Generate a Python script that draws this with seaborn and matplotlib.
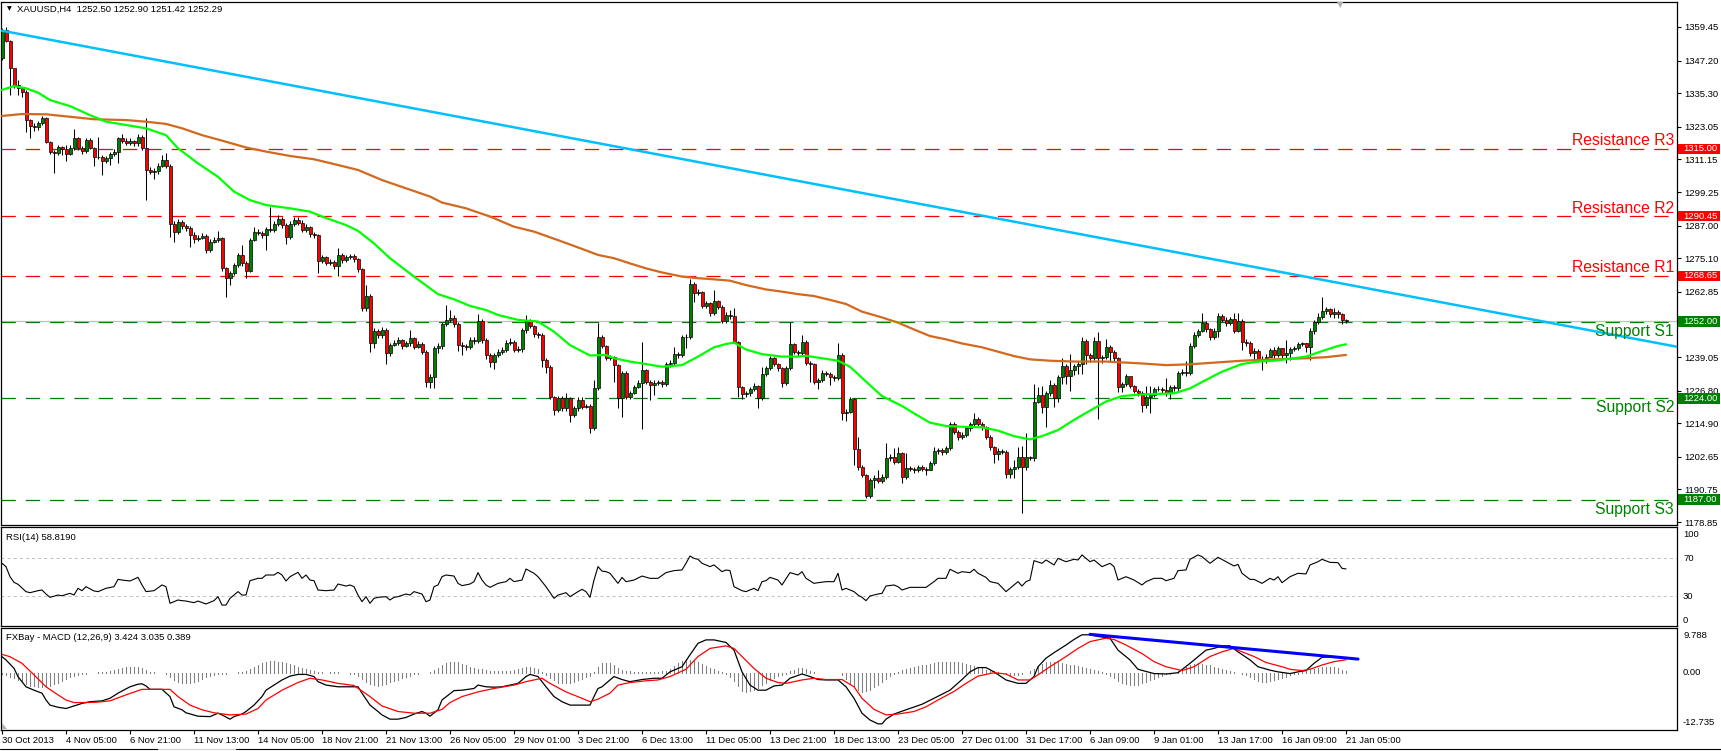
import numpy as np
import matplotlib
matplotlib.use("Agg")
import matplotlib.pyplot as plt
import matplotlib.transforms as mtransforms
from matplotlib.patches import Rectangle, Polygon
from matplotlib.lines import Line2D
import seaborn as sns

# ---------------- DATA ----------------
symbol_title = "XAUUSD,H4  1252.50 1252.90 1251.42 1252.29"
rsi_title = "RSI(14) 58.8190"
macd_title = "FXBay - MACD (12,26,9) 3.424 3.035 0.389"

first_open = 1348.0
closes = [
    1358.4, 1354.5, 1344.4, 1338.3, 1337.1, 1335.9, 1325.5, 1323.3, 1322.8, 1324.3,
    1326.1, 1317.6, 1313.7, 1313.4, 1315.5, 1315.0, 1313.2, 1315.3, 1318.8, 1315.2,
    1314.2, 1318.2, 1315.2, 1311.9, 1312.1, 1310.6, 1311.5, 1313.1, 1314.0, 1318.8,
    1318.0, 1317.3, 1317.9, 1317.0, 1319.4, 1315.2, 1307.3, 1306.7, 1307.0, 1308.9,
    1310.9, 1308.9, 1287.6, 1284.8, 1288.4, 1286.9, 1286.2, 1283.6, 1282.0, 1282.6,
    1283.2, 1278.1, 1281.1, 1281.7, 1282.4, 1271.4, 1267.8, 1269.6, 1272.6, 1276.3,
    1273.2, 1270.6, 1281.7, 1284.8, 1284.4, 1283.4, 1285.6, 1285.4, 1287.6, 1289.4,
    1287.2, 1282.7, 1287.6, 1289.0, 1288.1, 1285.4, 1286.6, 1283.9, 1283.4, 1274.2,
    1275.4, 1273.5, 1273.8, 1272.3, 1276.3, 1274.4, 1275.4, 1275.8, 1274.7, 1271.0,
    1256.8, 1261.4, 1244.0, 1248.7, 1247.1, 1248.9, 1240.4, 1243.4, 1244.3, 1245.3,
    1243.1, 1244.0, 1245.9, 1242.8, 1243.8, 1241.0, 1230.1, 1231.9, 1242.2, 1243.1,
    1251.1, 1252.6, 1253.2, 1251.1, 1243.4, 1243.1, 1242.6, 1245.3, 1244.9, 1252.2,
    1245.3, 1239.8, 1237.4, 1239.8, 1241.0, 1241.6, 1244.3, 1244.7, 1241.6, 1242.1,
    1248.9, 1252.2, 1250.4, 1247.5, 1247.1, 1238.0, 1235.5, 1224.6, 1219.7, 1224.0,
    1220.3, 1224.0, 1217.9, 1220.3, 1223.4, 1220.9, 1221.2, 1213.0, 1227.6, 1246.5,
    1243.1, 1238.6, 1238.9, 1236.1, 1224.0, 1233.3, 1224.6, 1226.0, 1228.2, 1229.7,
    1234.3, 1230.1, 1228.8, 1229.7, 1229.9, 1229.1, 1236.5, 1237.0, 1240.2, 1239.7,
    1246.2, 1246.5, 1265.7, 1262.3, 1262.9, 1257.7, 1258.6, 1255.0, 1259.5, 1257.4,
    1252.3, 1254.4, 1254.0, 1244.6, 1228.0, 1225.6, 1225.8, 1227.3, 1228.6, 1224.0,
    1232.8, 1234.9, 1238.6, 1236.5, 1234.9, 1229.4, 1234.9, 1243.8, 1241.0, 1240.4,
    1244.6, 1237.0, 1236.5, 1230.1, 1230.7, 1233.3, 1232.8, 1231.9, 1231.3, 1239.8,
    1218.7, 1219.1, 1223.6, 1205.4, 1199.0, 1196.0, 1188.3, 1194.2, 1194.8, 1194.0,
    1195.2, 1202.1, 1202.5, 1200.9, 1203.9, 1195.2, 1198.4, 1198.3, 1197.8, 1199.0,
    1198.3, 1197.8, 1200.5, 1204.9, 1205.1, 1204.3, 1205.7, 1214.6, 1211.8, 1210.0,
    1210.6, 1213.0, 1214.6, 1216.3, 1214.6, 1213.6, 1210.0, 1206.1, 1203.7, 1204.9,
    1204.4, 1196.4, 1198.1, 1199.0, 1202.4, 1199.0, 1202.4, 1202.2, 1222.7, 1225.2,
    1220.9, 1225.8, 1228.8, 1224.0, 1231.6, 1235.8, 1232.1, 1234.3, 1235.8, 1236.5,
    1245.0, 1239.8, 1238.6, 1245.0, 1238.6, 1238.9, 1242.8, 1241.0, 1238.6, 1228.2,
    1229.2, 1232.1, 1228.5, 1226.8, 1226.0, 1221.5, 1224.6, 1225.1, 1227.3, 1227.5,
    1227.0, 1226.0, 1228.2, 1227.6, 1233.3, 1233.7, 1233.1, 1243.1, 1247.1, 1248.7,
    1251.6, 1249.2, 1246.2, 1248.7, 1254.0, 1252.6, 1251.6, 1252.8, 1248.7, 1252.3,
    1244.6, 1244.3, 1240.6, 1241.4, 1238.2, 1238.5, 1239.2, 1241.6, 1239.8, 1242.2,
    1239.7, 1240.4, 1241.8, 1242.2, 1243.8, 1244.0, 1242.6, 1248.7, 1252.0, 1253.5,
    1256.0, 1256.4, 1254.7, 1255.6, 1254.7, 1252.5, 1252.29,
]
highs = [
    1359.0, 1359.3, 1354.8, 1343.2, 1340.1, 1337.7, 1336.3, 1326.0, 1324.5, 1325.2,
    1327.0, 1326.7, 1318.0, 1314.5, 1316.4, 1316.0, 1316.3, 1316.4, 1322.1, 1319.3,
    1316.0, 1319.0, 1318.8, 1315.6, 1319.4, 1312.8, 1312.4, 1314.0, 1315.0, 1319.5,
    1320.3, 1318.9, 1319.0, 1318.4, 1320.4, 1320.0, 1326.1, 1308.5, 1308.0, 1309.8,
    1312.8, 1313.4, 1309.5, 1288.5, 1289.4, 1288.9, 1287.5, 1287.0, 1284.5, 1283.5,
    1284.2, 1283.8, 1282.0, 1282.8, 1285.1, 1283.0, 1272.0, 1270.5, 1273.5, 1277.0,
    1279.9, 1274.0, 1282.6, 1286.6, 1285.8, 1285.0, 1286.5, 1293.7, 1288.5, 1290.9,
    1290.0, 1287.8, 1288.5, 1290.0, 1290.0, 1289.0, 1287.7, 1287.0, 1284.8, 1284.0,
    1276.3, 1276.0, 1274.8, 1274.5, 1278.7, 1277.0, 1276.4, 1276.8, 1276.5, 1275.3,
    1271.5, 1265.3, 1262.0, 1249.6, 1249.2, 1250.0, 1249.5, 1244.3, 1245.2, 1246.5,
    1245.8, 1245.0, 1248.9, 1246.5, 1244.8, 1244.5, 1241.5, 1233.0, 1243.0, 1244.0,
    1252.0, 1258.0, 1256.2, 1254.4, 1251.8, 1244.5, 1243.8, 1246.2, 1246.2, 1254.7,
    1253.0, 1246.0, 1240.5, 1240.6, 1242.0, 1242.8, 1245.2, 1246.0, 1245.3, 1243.2,
    1249.8, 1254.4, 1253.0, 1250.8, 1248.3, 1247.8, 1238.6, 1236.0, 1225.0, 1225.0,
    1224.8, 1226.1, 1224.5, 1221.2, 1224.3, 1224.6, 1222.0, 1221.8, 1230.7, 1251.3,
    1247.1, 1243.5, 1239.8, 1239.3, 1236.5, 1234.0, 1233.8, 1226.8, 1229.0, 1230.5,
    1244.5, 1234.8, 1230.6, 1230.6, 1230.8, 1230.5, 1237.3, 1237.8, 1242.8, 1240.8,
    1247.0, 1247.3, 1267.4, 1266.3, 1263.8, 1263.3, 1259.5, 1259.0, 1263.5, 1260.0,
    1257.9, 1255.3, 1256.2, 1256.8, 1245.0, 1228.5, 1226.6, 1228.0, 1229.5, 1229.0,
    1235.5, 1235.8, 1239.4, 1239.2, 1237.0, 1235.3, 1235.8, 1252.0, 1244.3, 1241.5,
    1247.1, 1245.3, 1237.6, 1237.0, 1231.5, 1234.2, 1234.0, 1233.5, 1232.5, 1244.3,
    1240.5, 1220.0, 1224.5, 1224.2, 1210.0, 1199.5, 1196.5, 1195.0, 1196.0, 1197.8,
    1196.2, 1207.8, 1203.5, 1205.7, 1206.3, 1204.5, 1203.9, 1199.3, 1199.0, 1199.8,
    1199.5, 1198.8, 1201.3, 1206.3, 1206.0, 1205.8, 1206.5, 1215.5, 1215.2, 1212.5,
    1211.8, 1214.0, 1215.3, 1218.7, 1217.0, 1215.2, 1214.0, 1210.5, 1206.5, 1205.8,
    1205.5, 1205.0, 1199.0, 1201.5, 1206.3, 1206.6, 1211.4, 1203.0, 1229.2, 1228.2,
    1228.5, 1226.6, 1230.7, 1229.5, 1232.5, 1238.6, 1236.5, 1240.2, 1236.6, 1237.7,
    1246.2, 1245.8, 1240.5, 1246.5, 1248.3, 1239.8, 1245.5, 1243.5, 1241.5, 1239.2,
    1230.0, 1233.0, 1231.9, 1229.0, 1227.5, 1226.5, 1228.5, 1228.5, 1228.0, 1228.4,
    1228.2, 1231.3, 1229.0, 1229.0, 1234.0, 1234.5, 1237.7, 1244.0, 1248.0, 1249.2,
    1255.2, 1252.3, 1249.7, 1249.5, 1255.0, 1254.8, 1253.5, 1253.8, 1255.2, 1255.2,
    1253.0, 1245.5, 1244.8, 1242.2, 1241.8, 1239.5, 1240.0, 1242.5, 1242.6, 1243.0,
    1242.5, 1245.2, 1242.8, 1243.1, 1244.5, 1244.6, 1244.3, 1249.5, 1252.6, 1255.2,
    1261.1, 1257.3, 1256.8, 1256.8, 1256.3, 1255.0, 1252.9,
]
lows = [
    1347.5, 1354.0, 1334.6, 1337.1, 1334.6, 1334.0, 1321.3, 1318.8, 1321.5, 1322.0,
    1323.8, 1317.0, 1313.1, 1306.1, 1312.8, 1312.6, 1310.7, 1312.8, 1314.5, 1314.5,
    1313.0, 1313.6, 1314.8, 1308.9, 1311.3, 1305.5, 1309.8, 1309.1, 1312.5, 1310.0,
    1317.0, 1316.3, 1316.5, 1315.9, 1316.2, 1314.5, 1296.3, 1305.8, 1303.9, 1306.0,
    1308.3, 1308.0, 1282.7, 1281.1, 1284.0, 1285.9, 1285.0, 1279.1, 1280.6, 1281.3,
    1282.0, 1277.0, 1277.3, 1280.5, 1281.0, 1270.5, 1261.1, 1265.3, 1269.0, 1272.0,
    1272.4, 1267.8, 1270.0, 1281.3, 1283.5, 1282.5, 1278.1, 1284.6, 1284.8, 1287.0,
    1286.3, 1280.3, 1282.0, 1287.0, 1287.3, 1284.5, 1284.8, 1283.0, 1282.5, 1269.6,
    1273.4, 1272.5, 1272.8, 1271.0, 1268.6, 1273.5, 1273.8, 1274.8, 1273.8, 1270.0,
    1256.0, 1255.8, 1241.0, 1242.5, 1246.0, 1246.0, 1236.5, 1239.5, 1243.0, 1243.5,
    1242.0, 1242.6, 1243.0, 1241.8, 1242.2, 1240.0, 1228.2, 1227.6, 1227.6, 1240.5,
    1242.0, 1250.5, 1251.8, 1250.0, 1241.4, 1239.8, 1241.5, 1241.9, 1243.8, 1244.0,
    1244.0, 1238.5, 1235.5, 1234.6, 1239.0, 1240.2, 1240.8, 1243.5, 1240.8, 1240.8,
    1241.0, 1247.8, 1249.5, 1246.5, 1246.0, 1235.5, 1233.3, 1223.6, 1217.9, 1219.0,
    1219.4, 1219.5, 1215.5, 1217.0, 1219.5, 1220.0, 1220.3, 1211.5, 1212.5, 1227.0,
    1242.5, 1238.0, 1237.8, 1230.0, 1220.3, 1217.0, 1223.8, 1223.9, 1225.5, 1227.8,
    1212.7, 1229.3, 1223.4, 1225.1, 1228.8, 1228.0, 1228.5, 1235.5, 1236.3, 1238.8,
    1239.2, 1242.2, 1245.8, 1259.2, 1261.5, 1256.8, 1257.0, 1254.0, 1254.5, 1256.5,
    1251.5, 1251.6, 1253.0, 1244.0, 1224.6, 1223.6, 1224.5, 1225.0, 1226.5, 1220.3,
    1223.5, 1232.0, 1234.3, 1235.8, 1234.0, 1228.2, 1228.8, 1234.3, 1240.0, 1239.5,
    1239.8, 1236.0, 1230.1, 1229.2, 1227.3, 1230.0, 1232.0, 1228.8, 1230.4, 1230.8,
    1216.1, 1215.8, 1218.5, 1199.7, 1198.0, 1195.2, 1187.5, 1187.8, 1191.2, 1193.0,
    1193.0, 1194.5, 1201.3, 1200.0, 1200.3, 1193.0, 1194.6, 1197.3, 1196.6, 1197.2,
    1197.5, 1196.0, 1197.8, 1199.8, 1203.8, 1203.3, 1203.8, 1205.0, 1211.0, 1208.8,
    1209.2, 1209.7, 1212.2, 1213.8, 1213.8, 1212.5, 1209.0, 1205.3, 1200.5, 1201.5,
    1203.6, 1194.8, 1195.0, 1194.8, 1198.2, 1182.3, 1198.0, 1201.5, 1201.0, 1222.4,
    1218.7, 1213.4, 1224.8, 1220.7, 1222.7, 1229.2, 1229.2, 1226.8, 1232.5, 1232.8,
    1232.8, 1236.5, 1237.3, 1238.0, 1216.3, 1236.7, 1238.3, 1237.4, 1237.5, 1226.4,
    1226.4, 1228.5, 1227.6, 1225.8, 1225.0, 1219.1, 1220.5, 1218.5, 1224.5, 1226.5,
    1226.0, 1225.0, 1223.6, 1226.5, 1226.8, 1232.5, 1232.2, 1232.5, 1242.5, 1246.5,
    1248.0, 1248.3, 1245.2, 1245.6, 1246.2, 1251.8, 1250.5, 1250.8, 1247.8, 1248.0,
    1241.6, 1243.0, 1239.5, 1238.0, 1237.2, 1234.3, 1237.0, 1238.9, 1238.8, 1239.2,
    1238.8, 1236.7, 1238.0, 1241.2, 1241.5, 1243.0, 1241.0, 1238.0, 1247.5, 1251.0,
    1253.0, 1254.8, 1253.8, 1253.2, 1253.2, 1251.1, 1251.42,
]

# moving averages (bar index, price)
ma_fast_idx = [0, 3, 6, 9, 12, 17, 22, 26, 31, 36, 41, 44, 49, 54, 58, 62, 66, 72, 77, 80,
               86, 89, 93, 97, 103, 109, 113, 117, 121, 124, 129, 134, 138, 142, 147, 151, 153, 157, 161, 165,
               170, 174, 178, 181, 183, 186, 190, 195, 199, 201, 205, 209, 212, 216, 220, 225, 228, 232, 236, 240,
               245, 249, 253, 257, 260, 264, 268, 272, 276, 280, 285, 289, 293, 297, 301, 305, 310, 314, 318, 323,
               326, 330, 334, 336]
ma_fast_val = [1336.5, 1337.9, 1337.1, 1335.5, 1332.8, 1330.6, 1327.3, 1324.9, 1323.7, 1322.5,
               1320.0, 1315.2, 1309.7, 1304.8, 1299.4, 1296.3, 1294.5, 1293.3, 1292.1, 1290.3,
               1287.2, 1285.1, 1280.5, 1275.1, 1268.4, 1262.0, 1260.1, 1257.7, 1256.2, 1254.4,
               1252.6, 1252.0, 1248.3, 1243.4, 1239.6, 1239.8, 1238.6, 1237.4, 1236.5, 1235.5,
               1236.1, 1239.2, 1242.6, 1243.8, 1244.3, 1241.8, 1240.1, 1239.2, 1239.2, 1239.5,
               1238.6, 1237.7, 1235.5, 1230.1, 1224.8, 1221.2, 1218.5, 1215.1, 1213.9, 1213.6,
               1213.4, 1212.2, 1210.2, 1209.0, 1210.2, 1212.4, 1216.1, 1219.5, 1222.8, 1224.8,
               1225.4, 1225.6, 1225.8, 1227.6, 1230.7, 1233.7, 1236.5, 1237.4, 1237.7, 1238.6,
               1239.2, 1241.2, 1243.1, 1243.7]
ma_slow_idx = [0, 5, 11, 17, 23, 31, 36, 41, 45, 50, 55, 61, 66, 72, 78, 84, 89, 95, 101, 107,
               110, 116, 122, 128, 133, 139, 145, 149, 153, 157, 161, 165, 170, 174, 178, 182, 186, 191, 195, 199,
               203, 207, 211, 215, 220, 224, 228, 232, 236, 240, 245, 249, 253, 257, 262, 268, 276, 285, 291, 297,
               303, 310, 318, 326, 331, 336]
ma_slow_val = [1327.0, 1327.7, 1327.6, 1326.7, 1325.8, 1325.5, 1324.9, 1324.1, 1322.5, 1320.0,
               1318.0, 1315.5, 1314.0, 1312.4, 1311.2, 1309.1, 1307.3, 1303.6, 1300.6, 1297.6,
               1295.4, 1293.3, 1290.3, 1286.6, 1284.8, 1281.7, 1278.5, 1276.3, 1275.1, 1273.2,
               1271.4, 1269.9, 1268.4, 1267.8, 1267.4, 1266.9, 1265.3, 1263.7, 1262.9, 1262.0,
               1261.3, 1259.9, 1258.4, 1255.6, 1253.5, 1251.6, 1249.1, 1246.7, 1245.5, 1244.0,
               1242.6, 1241.0, 1239.4, 1238.2, 1237.7, 1237.4, 1237.4, 1236.7, 1236.1, 1236.4,
               1237.0, 1237.7, 1238.2, 1238.6, 1239.0, 1239.8]

# descending trendline anchors (bar index, price)
trend_idx = [0, 418.75]
trend_val = [1358.1, 1242.8]

level_values = [1315.00, 1290.45, 1268.65, 1252.00, 1224.00, 1187.00]
level_names = ["Resistance R3", "Resistance R2", "Resistance R1", "Support S1", "Support S2", "Support S3"]
level_kind = ["R", "R", "R", "S", "S", "S"]
bid_price = 1252.29

price_ticks = [1359.45, 1347.20, 1335.30, 1323.05, 1311.15, 1299.25, 1287.00, 1275.10,
               1262.85, 1239.05, 1226.80, 1214.90, 1202.65, 1190.75, 1178.85]

rsi_idx = [0, 1, 2, 3, 4, 6, 7, 9, 10, 11,
           12, 14, 15, 17, 18, 19, 20, 21, 23, 24,
           26, 28, 29, 30, 32, 34, 35, 36, 38, 40,
           41, 42, 44, 45, 46, 48, 49, 51, 53, 54,
           55, 56, 57, 59, 60, 61, 62, 64, 65, 66,
           68, 69, 70, 71, 72, 74, 75, 76, 77, 78,
           79, 81, 83, 84, 86, 87, 88, 89, 90, 91,
           92, 93, 94, 96, 97, 98, 99, 101, 102, 103,
           105, 106, 107, 108, 109, 110, 111, 113, 114, 115,
           117, 118, 119, 120, 121, 122, 124, 126, 127, 128,
           130, 131, 133, 134, 136, 138, 139, 141, 142, 144,
           145, 146, 147, 148, 149, 150, 151, 152, 154, 155,
           156, 158, 160, 162, 164, 166, 168, 170, 171, 172,
           173, 174, 175, 176, 177, 178, 180, 181, 182, 183,
           185, 186, 188, 189, 190, 191, 192, 194, 195, 197,
           199, 200, 201, 203, 204, 206, 208, 209, 210, 211,
           213, 214, 215, 216, 217, 219, 220, 221, 223, 224,
           225, 227, 231, 233, 234, 236, 237, 239, 240, 242,
           243, 244, 246, 247, 249, 251, 252, 254, 255, 256,
           257, 258, 260, 261, 263, 264, 266, 268, 269, 270,
           272, 273, 275, 277, 278, 279, 281, 283, 285, 286,
           288, 290, 291, 293, 294, 296, 297, 299, 300, 302,
           304, 306, 308, 309, 310, 312, 313, 315, 317, 318,
           319, 320, 322, 324, 326, 327, 329, 330, 332, 334,
           335, 336]
rsi_val = [64.7, 61.2, 50.6, 44.7, 42.6, 34.9, 33.8, 35.9, 36.6, 32.4,
           28.9, 31.3, 30.6, 33.1, 31.3, 38.4, 35.9, 40.1, 35.6, 34.9,
           38.4, 40.1, 47.8, 47.1, 46.1, 49.9, 41.9, 34.9, 35.9, 41.9,
           40.1, 22.6, 26.1, 25.4, 25.0, 23.3, 25.0, 21.9, 25.4, 29.6,
           20.8, 20.8, 27.8, 34.9, 31.3, 31.3, 46.4, 48.9, 48.9, 52.4,
           52.4, 55.2, 52.4, 46.1, 50.6, 55.2, 48.9, 52.4, 47.1, 46.4,
           36.6, 35.9, 36.6, 42.9, 40.8, 41.9, 40.1, 31.3, 24.3, 29.6,
           22.6, 27.8, 28.9, 29.6, 26.1, 28.9, 29.6, 32.4, 31.3, 34.9,
           32.4, 24.3, 26.1, 40.1, 41.9, 50.6, 52.4, 51.3, 43.6, 41.2,
           42.9, 45.4, 54.9, 47.1, 41.9, 39.4, 43.6, 45.4, 48.9, 45.4,
           47.1, 58.7, 54.2, 50.6, 40.1, 27.8, 31.3, 33.8, 29.6, 34.9,
           37.3, 34.9, 28.9, 47.1, 61.2, 56.5, 55.9, 54.2, 43.6, 49.9,
           45.4, 47.1, 51.3, 48.9, 48.9, 54.9, 57.0, 57.7, 64.7, 72.4,
           69.9, 68.9, 64.7, 63.0, 61.2, 63.0, 55.9, 57.7, 57.0, 40.1,
           35.9, 34.9, 38.4, 35.9, 45.4, 46.4, 49.9, 47.1, 41.9, 54.9,
           52.4, 55.9, 48.9, 43.6, 44.3, 45.4, 45.4, 54.2, 36.6, 38.4,
           34.9, 31.3, 28.9, 25.4, 30.3, 32.4, 33.1, 40.8, 41.9, 40.1,
           36.6, 39.4, 39.4, 45.4, 48.9, 48.9, 58.4, 54.2, 55.9, 54.9,
           58.4, 54.2, 49.9, 45.4, 43.6, 34.9, 38.4, 45.4, 40.8, 45.4,
           47.1, 67.5, 64.7, 68.2, 63.0, 69.9, 66.4, 68.9, 68.2, 73.5,
           66.4, 68.2, 61.2, 64.7, 61.2, 47.1, 50.6, 47.1, 41.9, 45.4,
           48.9, 48.9, 46.4, 48.9, 57.0, 57.7, 68.9, 73.5, 71.7, 64.7,
           71.0, 66.4, 61.9, 63.6, 54.2, 47.8, 47.8, 43.6, 48.9, 47.1,
           50.6, 44.3, 50.6, 54.2, 53.5, 62.9, 66.4, 68.9, 65.7, 65.4,
           59.4, 58.8]

macd_idx = [0, 1, 3, 4, 6, 8, 10, 11, 12, 14,
            16, 18, 20, 22, 25, 27, 29, 32, 34, 35,
            36, 37, 40, 42, 43, 45, 46, 49, 52, 54,
            55, 57, 58, 60, 61, 63, 65, 66, 68, 70,
            72, 74, 76, 78, 79, 81, 84, 87, 89, 90,
            92, 94, 95, 97, 99, 101, 103, 105, 106, 107,
            109, 110, 113, 115, 118, 119, 121, 123, 125, 127,
            129, 131, 132, 134, 136, 138, 140, 142, 145, 147,
            148, 149, 150, 153, 155, 157, 160, 163, 165, 167,
            170, 172, 174, 176, 178, 181, 183, 185, 187, 189,
            191, 193, 195, 197, 200, 202, 204, 206, 209, 211,
            213, 215, 217, 219, 220, 221, 223, 226, 230, 233,
            237, 240, 242, 244, 246, 248, 251, 254, 256, 258,
            259, 261, 263, 266, 268, 270, 272, 274, 277, 279,
            282, 284, 288, 291, 294, 297, 300, 301, 303, 305,
            307, 309, 312, 314, 317, 319, 322, 324, 326, 328,
            330, 333, 335, 336]
macd_val = [3.76, 3.0, 1.03, -0.93, -3.3, -4.1, -4.8, -6.4, -7.6, -8.1,
            -8.4, -7.8, -7.2, -6.8, -6.6, -6.0, -4.8, -3.3, -2.7, -2.6,
            -3.1, -3.9, -3.9, -5.6, -8.0, -8.7, -9.4, -10.2, -10.3, -9.5,
            -9.9, -10.9, -10.3, -9.7, -9.1, -7.6, -5.6, -4.1, -2.9, -1.7,
            -0.8, -0.4, -0.4, -0.9, -2.1, -2.9, -3.3, -3.3, -3.3, -4.8,
            -7.6, -9.1, -9.9, -10.9, -10.9, -10.5, -9.7, -9.1, -9.5, -10.2,
            -8.7, -6.4, -4.2, -4.1, -3.7, -2.9, -3.3, -3.4, -3.3, -2.9,
            -2.5, -0.9, -0.4, -0.9, -3.3, -5.6, -6.8, -7.6, -7.6, -7.6,
            -5.6, -3.7, -3.3, -0.9, -1.6, -2.1, -1.6, -1.3, -1.3, 0.2,
            1.4, 4.2, 6.9, 7.7, 7.7, 7.1, 5.3, 0.2, -2.9, -4.1,
            -4.1, -3.1, -2.9, -1.3, -0.3, -0.9, -1.6, -1.7, -1.7, -3.3,
            -6.0, -9.5, -11.1, -12.0, -12.0, -10.9, -9.7, -8.7, -7.4, -6.0,
            -4.1, -1.6, 0.2, 1.2, 1.2, 0.2, -1.7, -2.5, -2.5, -0.9,
            1.4, 3.4, 4.7, 6.5, 7.8, 8.9, 8.9, 8.5, 8.1, 5.3,
            3.0, 0.8, -0.2, -0.3, 0.0, 2.2, 4.5, 5.3, 5.7, 6.3,
            6.3, 4.9, 3.0, 1.4, 0.6, 0.2, -0.2, 0.2, 0.5, 2.2,
            3.6, 3.8, 3.6, 3.424]

signal_idx = [0, 2, 5, 8, 11, 14, 16, 18, 21, 24,
              27, 31, 35, 40, 42, 44, 47, 50, 53, 57,
              61, 64, 66, 70, 74, 77, 80, 84, 88, 92,
              95, 99, 103, 107, 110, 112, 115, 119, 123, 128,
              131, 135, 137, 141, 145, 147, 149, 152, 154, 157,
              161, 164, 167, 171, 174, 177, 181, 183, 185, 188,
              191, 194, 196, 200, 203, 206, 210, 213, 215, 218,
              221, 224, 228, 231, 234, 238, 241, 244, 248, 251,
              254, 257, 259, 262, 266, 269, 272, 276, 278, 281,
              285, 288, 291, 295, 298, 302, 305, 308, 310, 313,
              316, 320, 322, 325, 327, 330, 333, 336]
signal_val = [4.3, 3.76, 2.2, -0.5, -3.3, -5.2, -6.4, -7.0, -7.0, -6.9,
              -6.6, -5.2, -3.9, -3.9, -3.9, -5.6, -7.6, -8.7, -9.4, -9.9,
              -9.7, -8.4, -6.4, -4.1, -2.3, -1.3, -1.7, -2.5, -3.0, -5.6,
              -7.8, -9.1, -9.5, -9.5, -8.6, -7.0, -5.6, -4.5, -3.7, -2.9,
              -2.1, -1.3, -2.5, -4.5, -6.0, -6.8, -6.2, -4.8, -2.9, -2.3,
              -1.9, -1.7, -0.9, 0.8, 3.8, 5.7, 6.3, 5.7, 3.8, 1.0,
              -1.3, -2.3, -2.5, -1.7, -1.3, -1.6, -1.6, -3.3, -6.0, -8.6,
              -9.9, -9.7, -9.1, -8.0, -6.4, -4.4, -2.5, -0.8, 0.0, -0.3,
              -1.7, -1.7, -0.5, 1.4, 3.8, 5.7, 7.3, 8.1, 7.8, 6.5,
              4.5, 2.6, 1.4, 0.5, 1.4, 3.8, 4.9, 5.7, 4.9, 3.8,
              2.4, 1.4, 0.8, 0.5, 0.8, 1.8, 2.6, 3.035]

macd_hist = [
    -0.3, -0.6, -1.0, -1.3, -1.8,
    -2.2, -2.6, -3.0, -3.2, -3.4, -3.3, -3.2,
    -3.0, -2.7, -2.3, -1.9, -1.5, -1.1, -0.8, -0.5,
    -0.3, -0.2, -0.1, 0.0, 0.1, 0.1, 0.2, 0.4,
    0.6, 0.9, 1.1, 1.3, 1.4, 1.4, 1.3, 1.0, 0.6, 0.2,
    0.1, 0.0, 0.0, -0.2,
    -1.0, -1.6, -2.2, -2.5, -2.5, -2.4, -2.2, -1.9, -1.5, -1.1, -0.8, -0.5,
    -0.3, -0.2, -0.2, -0.1, 0.0, 0.1, 0.2,
    0.5, 0.9, 1.4, 1.9, 2.3, 2.6, 2.7, 2.7, 2.6, 2.4, 2.2, 2.0, 1.7, 1.4, 1.1, 0.8, 0.6,
    0.4, 0.2, 0.1, 0.0, 0.1, 0.1, 0.1, 0.0, -0.1, -0.2, -0.3,
    -0.8, -1.5, -2.1, -2.6, -2.9, -3.0, -2.9, -2.6, -2.2, -1.9, -1.6,
    -1.3, -1.0, -0.7, -0.4, -0.2, -0.1, 0.0, 0.2, 0.6, 1.2,
    1.8, 2.3, 2.6, 2.6, 2.4, 2.1, 1.7, 1.4, 1.1,
    0.9, 0.8, 0.6, 0.5, 0.5, 0.4, 0.4, 0.4, 0.5, 0.7,
    0.9, 1.2, 1.4, 1.4, 1.2, 0.8,
    0.2, -0.5, -1.2, -1.8, -2.3, -2.5, -2.5, -2.4, -2.1, -1.8, -1.4, -1.0, -0.7,
    0.2, 1.3,
    2.2, 2.3, 2.2, 1.8, 1.2,
    0.6, 0.4, 0.3, 0.2, 0.2, 0.2, 0.1, 0.1, 0.1, 0.2, 0.3, 0.5,
    0.9, 1.5, 2.2, 2.8, 3.1, 3.0, 2.8, 2.4, 2.0, 1.6, 1.2, 0.8,
    0.4, 0.1, -0.3,
    -1.0, -2.0, -3.2, -4.2, -4.5, -4.4, -4.0, -3.5, -2.9, -2.3, -1.7, -1.2,
    -0.8, -0.5, -0.2, 0.3, 0.7,
    1.0, 1.0, 0.8, 0.5,
    0.2, 0.0, -0.1, -0.1, 0.0, 0.0, -0.1,
    -0.6, -1.5, -2.5, -3.4, -4.1, -4.5, -4.4, -4.0, -3.4, -2.8, -2.1, -1.4, -0.8,
    -0.3, 0.2, 0.6, 0.9, 1.2, 1.4, 1.5, 1.7, 1.8, 2.0,
    2.2, 2.4, 2.5, 2.6, 2.6, 2.6, 2.5, 2.3, 2.1, 1.9, 1.6, 1.3, 1.0, 0.7,
    0.5, 0.3, 0.1, -0.1, -0.3, -0.5, -0.6, -0.6, -0.4,
    -0.1, 0.3, 0.8,
    1.4, 2.0, 2.4, 2.6, 2.6, 2.5, 2.3, 2.1, 1.9, 1.7, 1.5, 1.3, 1.1, 0.9,
    0.6, 0.3, 0.1, -0.2,
    -0.7, -1.3, -1.9, -2.4, -2.7, -2.9, -2.9, -2.8, -2.5, -2.2, -1.8, -1.4, -1.0, -0.7, -0.4, -0.2, 0.0,
    0.4, 0.8, 1.3, 1.7, 2.0, 2.2, 2.1, 1.9, 1.7, 1.4, 1.1, 0.8, 0.6, 0.4,
    0.2, 0.0, -0.2,
    -0.6, -1.0, -1.5, -1.9, -2.1, -2.1, -2.0, -1.8, -1.5, -1.2, -0.9, -0.6, -0.4, -0.2,
    0.1, 0.3, 0.6, 0.9, 1.1, 1.3, 1.4, 1.4, 1.3, 1.0, 0.6, 0.3,
]
macd_trend_idx = [272, 339]
macd_trend_val = [9.0, 3.2]

x_labels = ["30 Oct 2013", "4 Nov 05:00", "6 Nov 21:00", "11 Nov 13:00", "14 Nov 05:00",
            "18 Nov 21:00", "21 Nov 13:00", "26 Nov 05:00", "29 Nov 01:00", "3 Dec 21:00",
            "6 Dec 13:00", "11 Dec 05:00", "13 Dec 21:00", "18 Dec 13:00", "23 Dec 05:00",
            "27 Dec 01:00", "31 Dec 17:00", "6 Jan 09:00", "9 Jan 01:00", "13 Jan 17:00",
            "16 Jan 09:00", "21 Jan 05:00"]
x_label_step = 16

# ---------------- STYLE ----------------
sns.set_theme(style="white")
plt.rcParams['font.family'] = ['Liberation Sans', 'DejaVu Sans']
plt.rcParams['lines.scale_dashes'] = False

W, H = 1721, 751
fig = plt.figure(figsize=(W / 100, H / 100), dpi=100)
fig.patch.set_facecolor('white')


def px_axes(x0, y0, x1, y1):
    return fig.add_axes([x0 / W, 1 - y1 / H, (x1 - x0) / W, (y1 - y0) / H])


ax = px_axes(1, 2, 1677, 525)
ax_rsi = px_axes(1, 527, 1677, 626)
ax_macd = px_axes(1, 628, 1677, 730)

FS = 6.8
for a in (ax, ax_rsi, ax_macd):
    a.set_facecolor('white')
    for s in a.spines.values():
        s.set_color('black')
        s.set_linewidth(0.9)
    a.set_xlim(-0.25, 418.75)
    a.tick_params(axis='both', which='both', left=False, labelleft=False,
                  bottom=False, labelbottom=False, top=False, right=False)

# ---------------- MAIN PRICE PANEL ----------------
c = np.array(closes)
hi = np.array(highs)
lo = np.array(lows)
op = np.array([first_open] + closes[:-1])
idx = np.arange(len(c))

ax.axhline(bid_price, color='#C0C0C0', lw=0.9, zorder=1.5)
for v, k in zip(level_values, level_kind):
    col = '#FF0000' if k == "R" else '#008000'
    ax.axhline(v, color=col, lw=0.9, dashes=(10.3, 7.2), zorder=2)

ax.vlines(idx, lo, hi, color='black', lw=0.75, zorder=3)
up = c > op
body_bottom = np.minimum(op, c)
body_h = np.abs(c - op)
body_cols = ['#008000' if u else '#FF0000' for u in up]
ax.bar(idx, body_h, bottom=body_bottom, width=0.75, color=body_cols,
       edgecolor='black', linewidth=0.5, zorder=4)

sns.lineplot(x=ma_slow_idx, y=ma_slow_val, ax=ax, color='#D2691E', lw=1.6, zorder=5)
sns.lineplot(x=ma_fast_idx, y=ma_fast_val, ax=ax, color='#00FF00', lw=1.6, zorder=5)
sns.lineplot(x=trend_idx, y=trend_val, ax=ax, color='#00BFFF', lw=1.8, zorder=6)

for v, name, k in zip(level_values, level_names, level_kind):
    if k == "R":
        ax.text(418, v + 1.3, name, color='#FF0000', fontsize=11.3, ha='right', va='baseline', zorder=7)
    else:
        ax.text(418, v - 5.1, name, color='#008000', fontsize=11.3, ha='right', va='baseline', zorder=7)

ax.set_ylim(1177.77, 1368.57)
ax.set_xlim(-0.25, 418.75)
ax.set_xlabel('')
ax.set_ylabel('')
ax.set_yticks(price_ticks)
ax.set_yticklabels([f"{v:.2f}" for v in price_ticks])
ax.tick_params(axis='y', which='both', left=False, labelleft=False, right=True, labelright=True,
               direction='out', length=3, width=0.8, pad=2, labelsize=FS, colors='black')
ax.set_xticks([])

trans_main = mtransforms.blended_transform_factory(fig.transFigure, ax.transData)
box_h = 10.5 / 2.741
for v, k in zip(level_values, level_kind):
    col = '#FF0000' if k == "R" else '#008000'
    ax.add_patch(Rectangle((1678 / W, v - box_h / 2), 42 / W, box_h, transform=trans_main,
                           facecolor=col, edgecolor='none', clip_on=False, zorder=8))
    ax.text(1683 / W, v, f"{v:.2f}", transform=trans_main, ha='left', va='center',
            color='white', fontsize=FS, zorder=9, clip_on=False)

# ---------------- RSI PANEL ----------------
ax_rsi.axhline(70, color='#C0C0C0', lw=0.7, dashes=(2.2, 2.2))
ax_rsi.axhline(30, color='#C0C0C0', lw=0.7, dashes=(2.2, 2.2))
sns.lineplot(x=rsi_idx, y=rsi_val, ax=ax_rsi, color='black', lw=0.8)
ax_rsi.set_ylim(-1.26, 102.9)
ax_rsi.set_xlim(-0.25, 418.75)
ax_rsi.set_xticks([])
ax_rsi.set_yticks([])
ax_rsi.set_xlabel('')
ax_rsi.set_ylabel('')
trans_rsi = mtransforms.blended_transform_factory(fig.transFigure, ax_rsi.transData)
for v, va in [(100, 'top'), (70, 'center'), (30, 'center'), (0, 'bottom')]:
    ax_rsi.text(1683 / W, v, str(v), transform=trans_rsi, ha='left', va=va,
                fontsize=FS, color='black', clip_on=False)

# ---------------- MACD PANEL ----------------
ax_macd.vlines(np.arange(len(macd_hist)), 0, macd_hist, color='#808080', lw=0.75,
               capstyle='projecting')
sns.lineplot(x=macd_idx, y=macd_val, ax=ax_macd, color='black', lw=0.9)
sns.lineplot(x=signal_idx, y=signal_val, ax=ax_macd, color='#FF0000', lw=0.9)
sns.lineplot(x=macd_trend_idx, y=macd_trend_val, ax=ax_macd, color='#0000FF', lw=2.2)
ax_macd.set_ylim(-13.44, 10.49)
ax_macd.set_xlim(-0.25, 418.75)
ax_macd.set_yticks([])
ax_macd.set_xlabel('')
ax_macd.set_ylabel('')
trans_macd = mtransforms.blended_transform_factory(fig.transFigure, ax_macd.transData)
for v, txt, va in [(9.788, "9.788", 'top'), (0.0, "0.00", 'center'), (-12.735, "-12.735", 'bottom')]:
    ax_macd.text(1683 / W, v, txt, transform=trans_macd, ha='left', va=va,
                 fontsize=FS, color='black', clip_on=False)

xt = [i * x_label_step for i in range(len(x_labels))]
ax_macd.set_xticks(xt)
ax_macd.set_xticklabels(x_labels, ha='left')
ax_macd.tick_params(axis='x', bottom=True, labelbottom=True, direction='out', length=3,
                    width=0.8, pad=1.5, labelsize=FS, colors='black')

# ---------------- HEADER / FRAME DECOR ----------------
fig.text(9 / W, 1 - 9 / H, "\u25BC", fontsize=4.5, ha='center', va='center',
         color='black', family='DejaVu Sans')
fig.text(17 / W, 1 - 9 / H, symbol_title, fontsize=FS, ha='left', va='center', color='black')
fig.text(6 / W, 1 - 537 / H, rsi_title, fontsize=FS, ha='left', va='center', color='black')
fig.text(6 / W, 1 - 637 / H, macd_title, fontsize=FS, ha='left', va='center', color='black')
fig.text(1340 / W, 1 - 5 / H, "\u25BC", fontsize=6, ha='center', va='center',
         color='#B0B0B0', family='DejaVu Sans')

# small gray corner marker at bottom-left of MACD panel
fig.add_artist(Polygon([[2 / W, 1 - 723 / H], [2 / W, 1 - 729 / H], [7 / W, 1 - 729 / H]],
                       closed=True, transform=fig.transFigure, facecolor='#B0B0B0',
                       edgecolor='none'))

# bottom tab-bar line
yb = 1 - 749 / H
fig.add_artist(Line2D([0, 158 / W], [yb, yb], transform=fig.transFigure, color='black', lw=0.8))
fig.add_artist(Line2D([158 / W, 236 / W], [yb, yb], transform=fig.transFigure, color='#D0D0D0', lw=0.8))
fig.add_artist(Line2D([236 / W, 1], [yb, yb], transform=fig.transFigure, color='black', lw=0.8))

fig.savefig("out.png", dpi=100, facecolor='white')
